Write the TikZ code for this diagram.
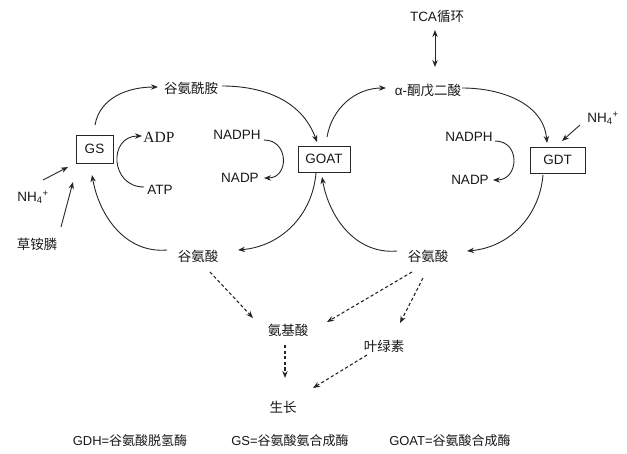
\documentclass[tikz,border=0pt]{standalone}
\usepackage{fontspec}
\setmainfont{Liberation Sans}
\newfontfamily\cjk{Noto Sans CJK SC}
\newfontfamily\serifa{Liberation Serif}
\usetikzlibrary{arrows.meta}
\begin{document}
\begin{tikzpicture}[x=1pt,y=1pt,
  lbl/.style={inner sep=1pt, font=\fontsize{13.5}{16}\selectfont, text=black!90},
  leg/.style={inner sep=1pt, font=\fontsize{13}{15}\selectfont, text=black!90},
  enzbox/.style={draw=black!85, line width=1pt, inner sep=0pt, minimum height=26pt, font=\fontsize{13.5}{16}\selectfont, text=black!90},
  arr/.style={line width=0.9pt, draw=black!85, -{Stealth[length=7pt,width=5.4pt]}},
  darr/.style={arr, line width=1.1pt, dash pattern=on 3.2pt off 2.4pt},
  dbl/.style={line width=1pt, draw=black!85, {Stealth[length=7pt,width=5.4pt]}-{Stealth[length=7pt,width=5.4pt]}}
]
\useasboundingbox (0,0) rectangle (627,-453);
\fill[white] (0,0) rectangle (627,-453);

% enzyme boxes
\node[enzbox, minimum width=37pt, minimum height=28pt] (gs) at (94.5,-149) {GS};
\node[enzbox, minimum width=52pt] (goat) at (324,-159) {GOAT};
\node[enzbox, minimum width=55pt] (gdt) at (557.5,-160) {GDT};

% labels
\node[lbl] (gln) at (191,-88) {\cjk 谷氨酰胺};
\node[lbl] (akg) at (428,-90) {α-{\cjk 酮戊二酸}};
\node[lbl] (tca) at (437,-16) {TCA{\cjk 循环}};
\node[lbl, font=\serifa\fontsize{15.5}{18}\selectfont] (adp) at (159,-137) {ADP};
\node[lbl] (atp) at (160,-190) {ATP};
\node[lbl] (nadphL) at (237,-135) {NADPH};
\node[lbl] (nadpL) at (240,-178) {NADP};
\node[lbl] (nadphR) at (469,-137) {NADPH};
\node[lbl] (nadpR) at (470,-180) {NADP};
\node[lbl] (nh4L) at (33,-197) {NH\textsubscript{4}\textsuperscript{+}};
\node[lbl] (glufos) at (37,-244) {\cjk 草铵膦};
\node[lbl] (nh4R) at (603,-118) {NH\textsubscript{4}\textsuperscript{+}};
\node[lbl] (gluL) at (198,-256) {\cjk 谷氨酸};
\node[lbl] (gluR) at (428,-256) {\cjk 谷氨酸};
\node[lbl] (aa) at (288,-330) {\cjk 氨基酸};
\node[lbl] (chl) at (384,-346) {\cjk 叶绿素};
\node[lbl] (grow) at (283,-407) {\cjk 生长};

% legend
\node[leg] (lg1) at (130,-441) {GDH={\cjk 谷氨酸脱氢酶}};
\node[leg] (lg2) at (290,-441) {GS={\cjk 谷氨酸氨合成酶}};
\node[leg] (lg3) at (450,-441) {GOAT={\cjk 谷氨酸合成酶}};

% left cycle
\draw[arr] ([shift={(0.5,24)}]gs.center) to[out=80,in=180] ([shift={(-33,1)}]gln.center);
\draw[arr] ([shift={(31,2)}]gln.center) to[out=0,in=110] ([shift={(-7,17)}]goat.center);
\draw[arr] ([shift={(-8,-14)}]goat.center) to[out=265,in=5] ([shift={(40,6)}]gluL.center);
\draw[arr] ([shift={(-31,6)}]gluL.center) to[out=185,in=280] ([shift={(-2.5,-26)}]gs.center);

% right cycle
\draw[arr] ([shift={(3,22)}]goat.center) to[out=80,in=180] ([shift={(-42,2)}]akg.center);
\draw[arr] ([shift={(34,2)}]akg.center) to[out=0,in=95] ([shift={(-10.5,17)}]gdt.center);
\draw[arr] ([shift={(-14.5,-15)}]gdt.center) to[out=265,in=5] ([shift={(39,5)}]gluR.center);
\draw[arr] ([shift={(-31,5)}]gluR.center) to[out=185,in=280] ([shift={(-2,-18)}]goat.center);

% cofactors
\draw[arr] ([shift={(-16,3)}]atp.center) to[out=180,in=180,looseness=1.7] ([shift={(-17,1)}]adp.center);
\draw[arr] ([shift={(27,-5)}]nadphL.center) to[out=0,in=0,looseness=1.7] ([shift={(24,0)}]nadpL.center);
\draw[arr] ([shift={(26,-4)}]nadphR.center) to[out=0,in=0,looseness=1.7] ([shift={(23,0)}]nadpR.center);

% inputs
\draw[dbl] ([shift={(-2,-14)}]tca.center) -- ([shift={(7,23)}]akg.center);
\draw[arr] ([shift={(-23,-7)}]nh4R.center) -- ([shift={(4.5,19)}]gdt.center);
\draw[arr] ([shift={(10,17)}]nh4L.center) -- ([shift={(-26.5,-18)}]gs.center);
\draw[arr] ([shift={(24,17)}]glufos.center) -- ([shift={(-21.5,-33)}]gs.center);

% dashed
\draw[darr] ([shift={(12,-16)}]gluL.center) -- ([shift={(-35,12)}]aa.center);
\draw[darr] ([shift={(-16,-16)}]gluR.center) -- ([shift={(39,8)}]aa.center);
\draw[darr] ([shift={(-5,-22)}]gluR.center) -- ([shift={(16,23)}]chl.center);
\draw[darr] ([shift={(-3,-15)}]aa.center) -- ([shift={(2,29)}]grow.center);
\draw[darr] ([shift={(-17,-9)}]chl.center) -- ([shift={(30,19)}]grow.center);
\end{tikzpicture}
\end{document}
